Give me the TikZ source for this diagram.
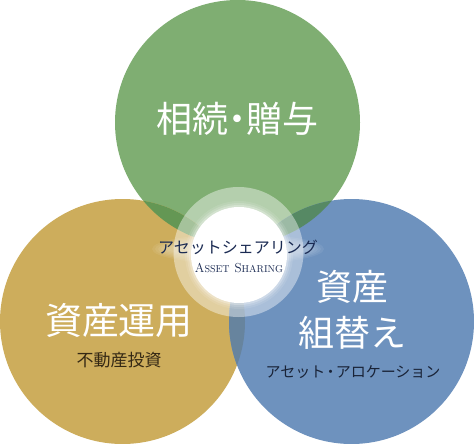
\documentclass[tikz,border=0pt]{standalone}
\usepackage{fontspec}
\newfontfamily\cjk{Noto Sans CJK JP}
\definecolor{cgreen}{RGB}{127,174,114}
\definecolor{cgold}{RGB}{205,173,92}
\definecolor{cblue}{RGB}{110,146,190}
\definecolor{cgg}{RGB}{100,151,84}
\definecolor{cgb}{RGB}{86,137,100}
\definecolor{cob}{RGB}{103,132,158}
\definecolor{navy}{RGB}{26,42,82}
\definecolor{brownt}{RGB}{52,40,20}
\definecolor{darkt}{RGB}{25,35,55}
\tikzset{
  bigtext/.style={text=white, font=\cjk\fontsize{36}{40}\selectfont, inner sep=0pt},
  subtext/.style={font=\cjk\fontsize{16}{18}\selectfont, inner sep=0pt},
}
\begin{document}
\begin{tikzpicture}[x=1pt,y=-1pt]
\useasboundingbox (0,0) rectangle (474,444);
% circles
\fill[cgreen] (237.5,122.5) circle (122.5);
\fill[cgold] (122.5,321.5) circle (122.5);
\fill[cblue] (351.5,321.5) circle (122.5);
% overlaps
\begin{scope}
  \clip (237.5,122.5) circle (122.5);
  \fill[cgg] (122.5,321.5) circle (122.5);
  \fill[cgb] (351.5,321.5) circle (122.5);
\end{scope}
\begin{scope}
  \clip (122.5,321.5) circle (122.5);
  \fill[cob] (351.5,321.5) circle (122.5);
\end{scope}
% central ring
\fill[white, opacity=0.42] (238.5,252) circle (65);
\foreach \r/\o in {54/0.10, 52/0.15, 50/0.25} {
  \fill[white, opacity=\o] (239,255) circle (\r);
}
\fill[white] (239,255) circle (48);
% soft glow behind the central title
\foreach \a/\b in {86/15, 83/13.5, 80/12, 77/10.5, 74/9, 71/7.5} {
  \fill[white, opacity=0.07] (238,249) ellipse (\a pt and \b pt);
}
% texts
\node[bigtext] (t1) at (237,119) {相続{\kern-0.25em}・{\kern-0.25em}贈与};
\node[bigtext, font=\cjk\fontsize{37}{40}\selectfont] (t2) at (119,321) {資産運用};
\node[subtext, text=brownt, font=\cjk\fontsize{17}{18}\selectfont] (t2s) at (119,360) {不動産投資};
\node[bigtext] (t3a) at (352,287) {資産};
\node[bigtext] (t3b) at (352,333) {組替え};
\node[subtext, text=darkt, font=\cjk\fontsize{15}{18}\selectfont] (t3s) at (353,372) {アセット{\kern-0.15em}・{\kern-0.15em}アロケーション};
\node[text=navy, font=\cjk\fontsize{16}{18}\selectfont, inner sep=0pt] (c1) at (238,247) {アセットシェアリング};
\node[text=navy, inner sep=0pt] (c2) at (239,268) {\addfontfeatures{LetterSpace=6}\fontsize{13}{14}\selectfont A{\fontsize{10}{12}\selectfont SSET}\hspace{5pt}S{\fontsize{10}{12}\selectfont HARING}};
\end{tikzpicture}
\end{document}
